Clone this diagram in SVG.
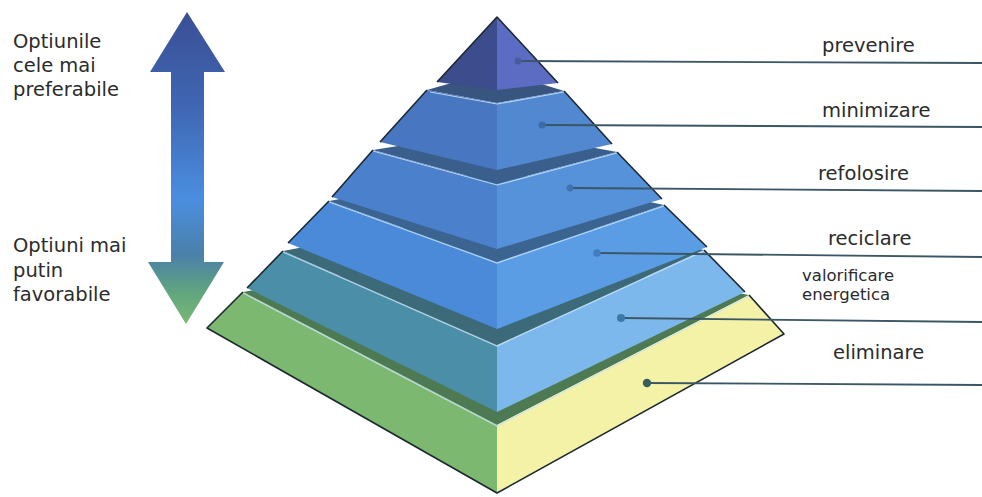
<svg xmlns="http://www.w3.org/2000/svg" width="982" height="497" viewBox="0 0 982 497">
  <defs>
    <linearGradient id="arrowGrad" x1="0" y1="12" x2="0" y2="324" gradientUnits="userSpaceOnUse">
      <stop offset="0" stop-color="#3a4f96"/>
      <stop offset="0.3" stop-color="#3f66b2"/>
      <stop offset="0.6" stop-color="#4a8ee0"/>
      <stop offset="0.78" stop-color="#4a80a8"/>
      <stop offset="0.9" stop-color="#62a67e"/>
      <stop offset="1" stop-color="#7ab876"/>
    </linearGradient>
    <style>
      .lbl { font-family: "DejaVu Sans", Verdana, sans-serif; font-size: 19.5px; fill: #2b2b2b; }
      .sm { font-size: 16.5px; }
      .edge { fill: none; stroke: #1c2830; stroke-width: 1.6; stroke-linejoin: round; }
      .ridge { fill: none; stroke: #c8e0f6; stroke-width: 1.2; opacity: 0.85; }
      .band { stroke: none; }
      .conn line { stroke: #3b5664; stroke-width: 1.8; }
      .conn circle { stroke: none; }
    </style>
  </defs>
  <rect width="982" height="497" fill="#ffffff"/>

  <!-- double arrow -->
  <g id="arrow">
    <polygon points="187,12 225,72 204,72 204,262 224,262 186,324 148,262 171,262 171,72 150,72" fill="url(#arrowGrad)"/>
  </g>

  <g id="label-left-top">
    <text class="lbl" x="13" y="48">Optiunile</text>
    <text class="lbl" x="13" y="72">cele mai</text>
    <text class="lbl" x="13" y="96">preferabile</text>
  </g>
  <g id="label-left-bottom">
    <text class="lbl" x="13" y="252">Optiuni mai</text>
    <text class="lbl" x="13" y="277">putin</text>
    <text class="lbl" x="13" y="301">favorabile</text>
  </g>

  <!-- layer 6: eliminare -->
  <g id="eliminare">
    <polygon class="band" points="243,292 497,250 749,295 497,425" fill="#4d7a52"/>
    <polygon points="243,292 497,425 497,493 207,328" fill="#7cb870"/>
    <polygon points="497,425 749,295 784,334 497,493" fill="#f3f2a6"/>
    <polyline class="ridge" points="243,293 497,426 749,296" stroke="#e8f0c0"/>
    <polyline class="edge" points="243,292 207,328 497,493 784,334 749,295"/>
    <text class="lbl" x="833" y="359">eliminare</text>
  </g>

  <!-- layer 5: valorificare energetica -->
  <g id="valorificare">
    <polygon class="band" points="283,251 497,210 704,250 497,345" fill="#3d6a78"/>
    <polygon points="283,251 497,345 497,412 247,288" fill="#4b8ea8"/>
    <polygon points="497,345 704,250 745,292 497,412" fill="#7db8ec"/>
    <polyline class="ridge" points="283,252 497,346 704,251"/>
    <polyline class="edge" points="283,251 247,288"/>
    <polyline class="edge" points="704,250 745,292"/>
    <text class="lbl sm" x="802" y="281">valorificare</text>
    <text class="lbl sm" x="802" y="300">energetica</text>
  </g>

  <!-- layer 4: reciclare -->
  <g id="reciclare">
    <polygon class="band" points="329,201 497,170 664,205 497,262" fill="#3b6490"/>
    <polygon points="329,201 497,262 497,329 288,243" fill="#4a8ad8"/>
    <polygon points="497,262 664,205 707,247 497,329" fill="#5a9de4"/>
    <polyline class="ridge" points="329,202 497,263 664,206"/>
    <polyline class="edge" points="329,201 288,243"/>
    <polyline class="edge" points="664,205 707,247"/>
    <text class="lbl" x="828" y="245">reciclare</text>
  </g>

  <!-- layer 3: refolosire -->
  <g id="refolosire">
    <polygon class="band" points="373,150 497,130 617,152 497,184" fill="#3a5f8c"/>
    <polygon points="373,150 497,184 497,249 332,197" fill="#4a80cc"/>
    <polygon points="497,184 617,152 662,199 497,249" fill="#5692da"/>
    <polyline class="ridge" points="373,151 497,185 617,153"/>
    <polyline class="edge" points="373,150 332,197"/>
    <polyline class="edge" points="617,152 662,199"/>
    <text class="lbl" x="818" y="180">refolosire</text>
  </g>

  <!-- layer 2: minimizare -->
  <g id="minimizare">
    <polygon class="band" points="427,90 497,70 564,91 497,103" fill="#37557f"/>
    <polygon points="427,90 497,103 497,170 380,142" fill="#4876c0"/>
    <polygon points="497,103 564,91 612,144 497,170" fill="#5288d0"/>
    <polyline class="ridge" points="430,92 497,104 564,92"/>
    <polyline class="edge" points="427,90 380,142"/>
    <polyline class="edge" points="564,91 612,144"/>
    <text class="lbl" x="822" y="117">minimizare</text>
  </g>

  <!-- layer 1: prevenire -->
  <g id="prevenire">
    <polygon points="497,17 437,82 497,90" fill="#3d4c8c"/>
    <polygon points="497,17 497,90 558,83" fill="#5b6cc2"/>
    <polyline class="edge" points="437,82 497,17 558,83"/>
    <text class="lbl" x="822" y="52">prevenire</text>
  </g>

  <!-- connectors -->
  <g id="connectors" class="conn">
    <line x1="518" y1="61" x2="982" y2="63"/>
    <circle cx="518" cy="61" r="3.5" fill="#4a5aa0"/>
    <line x1="542" y1="125" x2="982" y2="127"/>
    <circle cx="542" cy="125" r="3.5" fill="#3f6aa8"/>
    <line x1="570" y1="188" x2="982" y2="191"/>
    <circle cx="570" cy="188" r="3.5" fill="#3f74b4"/>
    <line x1="597" y1="253" x2="982" y2="257"/>
    <circle cx="597" cy="253" r="3.8" fill="#417cbc"/>
    <line x1="621" y1="318" x2="982" y2="322"/>
    <circle cx="621" cy="318" r="4" fill="#3e78a8"/>
    <line x1="647" y1="383" x2="982" y2="385"/>
    <circle cx="647" cy="383" r="4.2" fill="#3a5e5e"/>
  </g>
</svg>
